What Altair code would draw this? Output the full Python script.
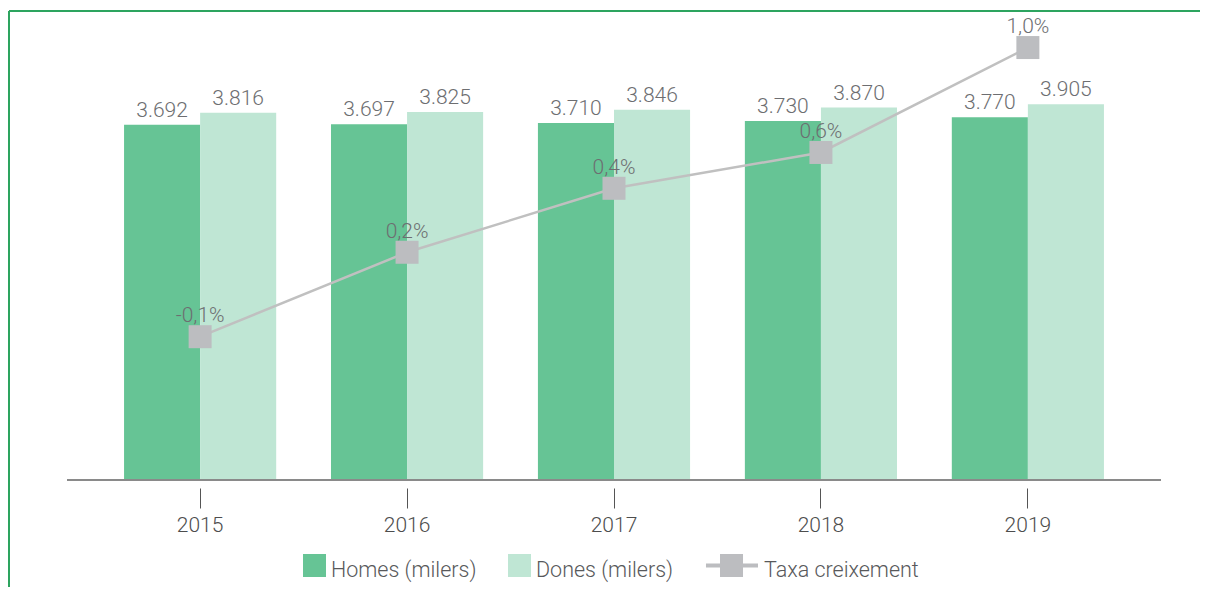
import altair as alt
import pandas as pd

years = ["2015", "2016", "2017", "2018", "2019"]
homes = [3692, 3697, 3710, 3730, 3770]
dones = [3816, 3825, 3846, 3870, 3905]
taxa = [-0.14, 0.19, 0.44, 0.58, 0.99]
series = ["Homes (milers)", "Dones (milers)", "Taxa creixement"]
colors = ["#66c495", "#bfe6d4", "#bcbdc0"]

bars_df = pd.DataFrame({
    "year": years * 2,
    "serie": [series[0]] * 5 + [series[1]] * 5,
    "value": homes + dones,
})
bars_df["label"] = [f"{v:,}".replace(",", ".") for v in bars_df["value"]]
line_df = pd.DataFrame({
    "year": years,
    "taxa": taxa,
    "label": [f"{v:.1f}".replace(".", ",") + "%" for v in taxa],
})

FONT = "Roboto"
W = 300
TXT = "#6d6e71"
FS = 21

x_enc = alt.X(
    "year:N",
    scale=alt.Scale(paddingInner=0.2648, paddingOuter=0.2757),
    axis=alt.Axis(title=None, domain=False, offset=8, tickSize=20, tickColor="#555555",
                  tickWidth=1, labelPadding=6, labelFontSize=21, labelColor="#4d4d4d",
                  labelFont=FONT, labelFontWeight=W, labelAngle=0, grid=False),
)
xoff = alt.XOffset("serie:N", scale=alt.Scale(domain=series[:2], paddingInner=0, paddingOuter=0))
y_bar = alt.Y("value:Q", scale=alt.Scale(domain=[0, 4520], nice=False, zero=True), axis=None)

# legend symbols: squares shifted slightly up; growth entry = line with square
sq_path = "M-1,-1.435H1V0.565H-1Z"
taxa_path = "M-3.61,-0.609H0.913V-0.261H-3.61Z M-2.39,-1.435H-0.39V0.565H-2.39Z"
shape_expr = f"datum.value === 'Taxa creixement' ? '{taxa_path}' : '{sq_path}'"

legend = alt.Legend(
    title=None, orient="none", legendX=236, legendY=514, direction="horizontal",
    symbolSize=529, symbolType={"expr": shape_expr}, symbolStrokeWidth=0,
    labelFont=FONT, labelFontWeight=W, labelFontSize=21.5, labelColor="#58595b",
    labelOffset=5, columnPadding=31, padding=0, labelLimit=300,
)

base_b = alt.Chart(bars_df)
bars = base_b.mark_bar().encode(
    x=x_enc, xOffset=xoff, y=y_bar,
    color=alt.Color("serie:N", scale=alt.Scale(domain=series, range=colors), legend=legend),
)
bar_txt = base_b.mark_text(dy=-8, baseline="alphabetic", fontSize=FS, font=FONT,
                           fontWeight=W, color=TXT).encode(
    x=x_enc, xOffset=xoff, y=y_bar, text="label:N")
baseline = alt.Chart(bars_df).mark_rule(color="#8a8a8a", strokeWidth=2).encode(
    y=alt.datum(0, type="quantitative"))

bar_group = alt.layer(bars, bar_txt, baseline)

base_l = alt.Chart(line_df)
y_line = alt.Y("taxa:Q", scale=alt.Scale(domain=[-0.7, 1.0], nice=False, zero=False), axis=None)
line = base_l.mark_line(color="#c0c0c0", strokeWidth=2.5).encode(x=x_enc, y=y_line)
pts = base_l.mark_point(shape="square", filled=True, size=529, color="#bcbdc0",
                        opacity=1).encode(x=x_enc, y=y_line)
ltxt = base_l.mark_text(dy=-14.5, baseline="alphabetic", fontSize=FS, font=FONT,
                        fontWeight=W, color=TXT).encode(x=x_enc, y=y_line, text="label:N")
line_group = alt.layer(line, pts, ltxt)

frame_top = alt.Chart(line_df).mark_rule(color="#2ea55f", strokeWidth=1.5).encode(
    x=alt.value(-58), x2=alt.value(1200), y=alt.value(-34))
frame_left = alt.Chart(line_df).mark_rule(color="#2ea55f", strokeWidth=1.5).encode(
    x=alt.value(-58), y=alt.value(-34), y2=alt.value(600))

chart = alt.layer(bar_group, line_group, frame_top, frame_left).resolve_scale(
    y="independent"
).properties(
    width=1094, height=435,
    padding={"left": 59, "top": 37, "right": 39, "bottom": 107},
    autosize=alt.AutoSizeParams(type="none"),
    background="white",
).configure(font=FONT).configure_view(strokeWidth=0, stroke="transparent")

chart.save("out.html", embed_options={"renderer": "svg", "actions": False})
